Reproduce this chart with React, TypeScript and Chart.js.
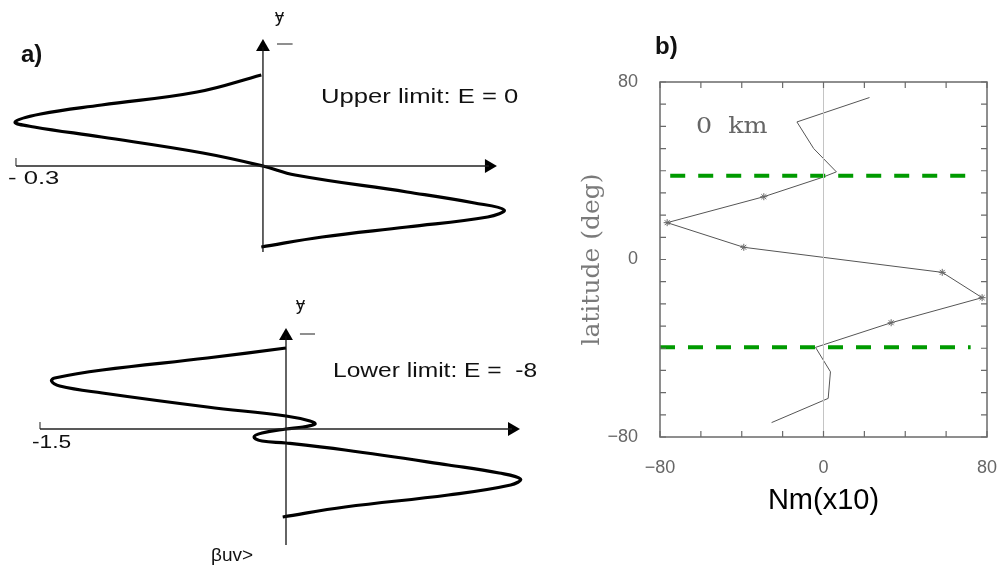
import React, { useEffect, useRef } from "react";
import { Chart, registerables } from "chart.js";

Chart.register(...registerables);

// ---------------- Panel a) upper : E = 0 ----------------
const upperCurveX = [-0.002, -0.08, -0.196, -0.27, -0.301, -0.278, -0.196, -0.073, 0, 0.039, 0.175, 0.257, 0.293, 0.273, 0.175, 0.072, -0.002];
const upperCurveY = [0.91, 0.74, 0.61, 0.52, 0.44, 0.39, 0.29, 0.13, 0, -0.09, -0.26, -0.37, -0.44, -0.51, -0.61, -0.71, -0.81];
const upperHAxis = [-0.3, 0.2745];
const upperVAxis = [-0.86, 1.19];
const upperTickLen = 0.08;
const upperMarkX = [0.017, 0.036];
const upperMarkY = 1.22;
const upperXRange = [-0.3194, 0.3365];
const upperYRange = [-1.04, 1.66];

// ---------------- Panel a) lower : E = -8 ----------------
const lowerCurveX = [0, -0.48, -1.12, -1.41, -1.43, -1.38, -1.12, -0.48, 0, 0.146, 0.177, 0.104, 0, -0.146, -0.195, -0.146, 0, 0.36, 0.99, 1.3, 1.43, 1.37, 0.99, 0.36, -0.02];
const lowerCurveY = [0.81, 0.71, 0.59, 0.51, 0.48, 0.43, 0.36, 0.22, 0.13, 0.08, 0.05, 0.02, 0, -0.04, -0.08, -0.12, -0.14, -0.21, -0.36, -0.44, -0.5, -0.56, -0.66, -0.78, -0.88];
const lowerHAxis = [-1.5, 1.378];
const lowerVAxis = [-1.16, 0.93];
const lowerTickLen = 0.07;
const lowerMarkX = [0.085, 0.177];
const lowerMarkY = 0.95;
const lowerXRange = [-1.7439, 1.5488];
const lowerYRange = [-1.58, 1.59];

// ---------------- Panel b) ----------------
const latitude = [73, 62, 50, 39.5, 37, 28.3, 16.6, 5.5, -5.8, -17.2, -28.5, -39.6, -50.6, -62.6, -73.5];
const nmX10 = [22.5, -13, -4.8, 6.3, -0.6, -29.2, -76.5, -39, 58.1, 77.6, 33.1, -3.9, 3.4, 2.3, -25.4];
const starMarked = [false, false, false, false, false, true, true, true, true, true, true, false, false, false, false];
const limitUpperLat = 37.8;
const limitLowerLat = -39.6;
const limitUpperSpan = [-75, 70.5];
const limitLowerSpan = [-80, 72];
const latTicks = [-80, -70, -60, -50, -40, -30, -20, -10, 0, 10, 20, 30, 40, 50, 60, 70, 80];
const nmTicks = [-80, -60, -40, -20, 0, 20, 40, 60, 80];
const labelledTicks = [-80, 0, 80];

const SANS = "'Liberation Sans', Arial, sans-serif";
const SERIF = "'DejaVu Serif', serif";

const xy = (xs: number[], ys: number[]) => xs.map((x, i) => ({ x, y: ys[i] }));

const seg = (data: any[], color = "#111", width = 1.3) => ({
  data,
  showLine: true,
  pointRadius: 0,
  borderColor: color,
  borderWidth: width,
  clip: false as any,
});

function schematicConfig(p: {
  cx: number[]; cy: number[]; h: number[]; v: number[]; tick: number;
  markX: number[]; markY: number; xr: number[]; yr: number[];
}) {
  return {
    type: "scatter" as const,
    data: {
      datasets: [
        seg([{ x: p.h[0], y: 0 }, { x: p.h[1], y: 0 }], "#222", 1.3),
        seg([{ x: p.h[0], y: 0 }, { x: p.h[0], y: p.tick }], "#444", 1.2),
        seg([{ x: 0, y: p.v[0] }, { x: 0, y: p.v[1] }], "#111", 1.3),
        seg([{ x: p.markX[0], y: p.markY }, { x: p.markX[1], y: p.markY }], "#444", 1.2),
        {
          data: [{ x: p.h[1], y: 0 }, { x: 0, y: p.v[1] }],
          showLine: false,
          pointStyle: "triangle",
          pointRadius: 8,
          pointRotation: [90, 0],
          backgroundColor: "#000",
          borderColor: "#000",
          pointBorderWidth: 0,
          clip: false,
        },
        {
          data: xy(p.cx, p.cy),
          showLine: true,
          tension: 0.4,
          pointRadius: 0,
          borderColor: "#000",
          borderWidth: 3.2,
          clip: false,
        },
      ],
    },
    options: {
      responsive: false,
      animation: false as const,
      events: [],
      layout: { padding: 0, autoPadding: false },
      plugins: { legend: { display: false }, tooltip: { enabled: false } },
      scales: {
        x: { type: "linear" as const, display: false, min: p.xr[0], max: p.xr[1] },
        y: { type: "linear" as const, display: false, min: p.yr[0], max: p.yr[1] },
      },
    },
  };
}

const framePlugin = {
  id: "frameTicks",
  afterDraw(chart: any) {
    const { ctx, chartArea, scales } = chart;
    const { left, right, top, bottom } = chartArea;
    ctx.save();
    ctx.strokeStyle = "#6a6a6a";
    ctx.lineWidth = 1.5;
    ctx.strokeRect(left, top, right - left, bottom - top);
    ctx.lineWidth = 1.2;
    ctx.beginPath();
    for (const v of latTicks) {
      const py = scales.y.getPixelForValue(v);
      ctx.moveTo(left, py); ctx.lineTo(left + 6, py);
      ctx.moveTo(right - 6, py); ctx.lineTo(right, py);
    }
    for (const v of nmTicks) {
      const px = scales.x.getPixelForValue(v);
      ctx.moveTo(px, bottom); ctx.lineTo(px, bottom - 6);
      ctx.moveTo(px, top); ctx.lineTo(px, top + 6);
    }
    ctx.stroke();
    ctx.restore();
  },
};

const tickLabel = (v: any) => {
  const n = Number(v);
  if (!labelledTicks.includes(n)) return "";
  return n < 0 ? "\u2212" + Math.abs(n) : String(n);
};

function panelBConfig() {
  return {
    type: "scatter" as const,
    data: {
      datasets: [
        seg([{ x: 0, y: -80 }, { x: 0, y: 80 }], "#c4c4c4", 1),
        {
          ...seg([{ x: limitUpperSpan[0], y: limitUpperLat }, { x: limitUpperSpan[1], y: limitUpperLat }], "#009a00", 4),
          borderDash: [15, 13],
        },
        {
          ...seg([{ x: limitLowerSpan[0], y: limitLowerLat }, { x: limitLowerSpan[1], y: limitLowerLat }], "#009a00", 4),
          borderDash: [15, 13],
        },
        {
          data: xy(nmX10, latitude),
          showLine: true,
          borderColor: "#555",
          borderWidth: 1,
          pointStyle: "star",
          pointRadius: starMarked.map((m) => (m ? 3.5 : 0)),
          pointBorderColor: "#666",
          pointBorderWidth: 1,
          clip: false,
        },
      ],
    },
    options: {
      responsive: false,
      animation: false as const,
      events: [],
      layout: { padding: { top: 42, right: 15, left: 0, bottom: 0 }, autoPadding: false },
      plugins: { legend: { display: false }, tooltip: { enabled: false } },
      scales: {
        x: {
          type: "linear" as const,
          min: -80,
          max: 80,
          grid: { display: false, drawTicks: false },
          border: { display: false },
          ticks: {
            stepSize: 10,
            autoSkip: false,
            maxRotation: 0,
            padding: 20,
            color: "#666",
            font: { size: 18, family: SANS },
            callback: tickLabel,
          },
          title: {
            display: true,
            text: "Nm(x10)",
            color: "#000",
            font: { size: 29, family: SANS },
            padding: { top: 0, bottom: 22 },
          },
          afterFit(s: any) {
            s.height = 103;
            s.paddingLeft = 0;
            s.paddingRight = 0;
          },
        },
        y: {
          type: "linear" as const,
          min: -80,
          max: 80,
          grid: { display: false, drawTicks: false },
          border: { display: false },
          ticks: {
            stepSize: 10,
            autoSkip: false,
            padding: 22,
            color: "#666",
            font: { size: 18, family: SANS },
            callback: tickLabel,
          },
          title: {
            display: true,
            text: "latitude (deg)",
            color: "#7a7a7a",
            font: { size: 25, family: SERIF },
            padding: { top: 17, bottom: 0 },
          },
          afterFit(s: any) {
            s.width = 100;
            s.paddingTop = 0;
            s.paddingBottom = 0;
          },
        },
      },
    },
    plugins: [framePlugin],
  };
}

type TextProps = {
  x: number; cy: number; size: number; text: string; bold?: boolean;
  color?: string; family?: string; stretch?: number;
};

function Label({ x, cy, size, text, bold, color, family, stretch }: TextProps) {
  return (
    <div
      style={{
        position: "absolute",
        left: x,
        top: cy - size / 2,
        fontSize: size,
        lineHeight: `${size}px`,
        fontFamily: family || SANS,
        fontWeight: bold ? "bold" : "normal",
        color: color || "#111",
        whiteSpace: "pre",
        transform: stretch ? `scaleX(${stretch})` : undefined,
        transformOrigin: "left center",
      }}
    >
      {text}
    </div>
  );
}

export default function App() {
  const topRef = useRef<HTMLCanvasElement>(null);
  const botRef = useRef<HTMLCanvasElement>(null);
  const bRef = useRef<HTMLCanvasElement>(null);

  useEffect(() => {
    const charts: Chart[] = [];
    if (topRef.current) {
      charts.push(
        new Chart(topRef.current, schematicConfig({
          cx: upperCurveX, cy: upperCurveY, h: upperHAxis, v: upperVAxis, tick: upperTickLen,
          markX: upperMarkX, markY: upperMarkY, xr: upperXRange, yr: upperYRange,
        }) as any)
      );
    }
    if (botRef.current) {
      charts.push(
        new Chart(botRef.current, schematicConfig({
          cx: lowerCurveX, cy: lowerCurveY, h: lowerHAxis, v: lowerVAxis, tick: lowerTickLen,
          markX: lowerMarkX, markY: lowerMarkY, xr: lowerXRange, yr: lowerYRange,
        }) as any)
      );
    }
    if (bRef.current) {
      charts.push(new Chart(bRef.current, panelBConfig() as any));
    }
    return () => charts.forEach((c) => c.destroy());
  }, []);

  return (
    <div
      style={{
        position: "absolute",
        left: 0,
        top: 0,
        width: 1002,
        height: 587,
        background: "#fff",
        overflow: "hidden",
      }}
    >
      <canvas ref={topRef} width={540} height={270} style={{ position: "absolute", left: 0, top: 0, width: 540, height: 270 }} />
      <canvas ref={botRef} width={540} height={317} style={{ position: "absolute", left: 0, top: 270, width: 540, height: 317 }} />
      <canvas ref={bRef} width={442} height={500} style={{ position: "absolute", left: 560, top: 40, width: 442, height: 500 }} />

      <Label x={21} cy={54} size={24} bold text="a)" />
      <Label x={275} cy={16} size={18} text={"\u024F"} />
      <Label x={321} cy={95} size={21} stretch={1.22} text="Upper limit: E = 0" />
      <Label x={8} cy={177} size={19} stretch={1.35} text="- 0.3" />
      <Label x={296} cy={304} size={18} text={"\u024F"} />
      <Label x={333} cy={369} size={21} stretch={1.17} text={"Lower limit: E =  -8"} />
      <Label x={32} cy={441} size={19} stretch={1.2} text="-1.5" />
      <Label x={211} cy={554} size={19} text={"\u03B2uv>"} />

      <Label x={655} cy={46} size={24} bold text="b)" />
      <Label x={696} cy={125} size={23} stretch={1.1} color="#666" family={SERIF} text={"0  km"} />
    </div>
  );
}
